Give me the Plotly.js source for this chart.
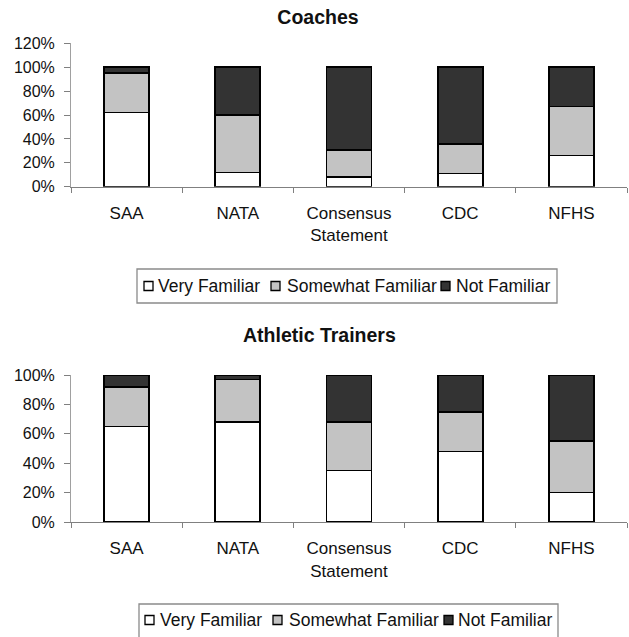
<!DOCTYPE html>
<html>
<head>
<meta charset="utf-8">
<script src="https://cdn.plot.ly/plotly-3.0.1.min.js"></script>
<style>html,body{margin:0;padding:0;background:#fff;}#chart{width:629px;height:637px;}</style>
</head>
<body>
<div id="chart"></div>
<script>
var categories = ['SAA', 'NATA', 'Consensus<br>Statement', 'CDC', 'NFHS'];
var seriesNames = ['Very Familiar', 'Somewhat Familiar', 'Not Familiar'];
var coachesVery = [62, 12, 8, 11, 26];
var coachesSomewhat = [33, 48, 23, 25, 41];
var coachesNot = [5, 40, 69, 64, 33];
var trainersVery = [65, 68, 35, 48, 20];
var trainersSomewhat = [27, 29, 33, 27, 35];
var trainersNot = [8, 3, 32, 25, 45];
var coachesTitle = 'Coaches';
var trainersTitle = 'Athletic Trainers';

var fillColors = ['#ffffff', '#c3c3c3', '#333333'];
var FONT = '"Liberation Sans", Arial, sans-serif';
var W = 629, H = 637, ML = 71, MR = 2;
var PW = W - ML - MR;
function px(x) { return (x - ML) / PW; }
function py(y) { return 1 - y / H; }

function mk(y, i, xa, ya) {
  return {
    type: 'bar', x: categories, y: y, name: seriesNames[i],
    xaxis: xa, yaxis: ya, showlegend: false,
    marker: {color: fillColors[i], line: {color: '#000000', width: 1.7}},
    hoverinfo: 'y'
  };
}
var data = [
  mk(coachesVery, 0, 'x', 'y'),
  mk(coachesSomewhat, 1, 'x', 'y'),
  mk(coachesNot, 2, 'x', 'y'),
  mk(trainersVery, 0, 'x2', 'y2'),
  mk(trainersSomewhat, 1, 'x2', 'y2'),
  mk(trainersNot, 2, 'x2', 'y2')
];

function xax(anchor) {
  return {
    anchor: anchor, domain: [0, 1], type: 'category',
    tickson: 'boundaries', ticks: 'outside', ticklen: 5, tickcolor: '#808080',
    showline: true, linecolor: '#808080', linewidth: 1,
    showgrid: false, zeroline: false,
    tickfont: {family: FONT, size: 17, color: '#111'},
    ticklabelstandoff: 11, fixedrange: true
  };
}
function yax(anchor, dom, maxv) {
  return {
    anchor: anchor, domain: dom, range: [0, maxv], dtick: 20, ticksuffix: '%',
    ticks: 'outside', ticklen: 6, tickcolor: '#808080',
    showline: true, linecolor: '#a0a0a0', linewidth: 1,
    showgrid: false, zeroline: false,
    tickfont: {family: FONT, size: 16, color: '#111'},
    ticklabelstandoff: 6, fixedrange: true
  };
}

// Hand-placed legend boxes (symbol + label), built from seriesNames / fillColors
var shapes = [], annotations = [];
function legendBox(x0, x1, y0, y1, symX, txtX, cy) {
  shapes.push({type: 'rect', xref: 'paper', yref: 'paper', x0: px(x0), x1: px(x1), y0: py(y1), y1: py(y0),
               line: {color: '#8a8a8a', width: 1.3}, fillcolor: 'rgba(0,0,0,0)', layer: 'above'});
  for (var i = 0; i < seriesNames.length; i++) {
    shapes.push({type: 'rect', xref: 'paper', yref: 'paper',
                 x0: px(symX[i]), x1: px(symX[i] + 9), y0: py(cy + 4.5), y1: py(cy - 4.5),
                 line: {color: '#000000', width: 1.3}, fillcolor: fillColors[i], layer: 'above'});
    annotations.push({text: seriesNames[i], showarrow: false, xref: 'paper', yref: 'paper',
                      x: px(txtX[i]), y: py(cy), xanchor: 'left', yanchor: 'middle', borderpad: 0,
                      font: {family: FONT, size: 17.5, color: '#111'}});
  }
}
legendBox(137, 557, 269, 303, [144, 271, 441], [157, 286, 455], 286);
legendBox(139, 558, 604, 638, [145, 273, 444], [159, 288, 457], 620);

annotations.push({
  text: '<b>' + trainersTitle + '</b>', showarrow: false,
  xref: 'paper', yref: 'paper', x: px(319), y: py(335),
  xanchor: 'center', yanchor: 'middle',
  font: {family: FONT, size: 19.5, color: '#111'}
});

var layout = {
  width: W, height: H,
  margin: {l: ML, r: MR, t: 0, b: 0},
  paper_bgcolor: '#ffffff', plot_bgcolor: '#ffffff',
  barmode: 'stack', bargap: 0.595, showlegend: false,
  font: {family: FONT, color: '#111'},
  title: {text: '<b>' + coachesTitle + '</b>', x: 318 / W, xanchor: 'center', xref: 'container',
          y: 1 - 17 / H, yanchor: 'middle', yref: 'container',
          font: {family: FONT, size: 19.5, color: '#111'}},
  xaxis: xax('y'),
  yaxis: yax('x', [py(186.7), py(43.3)], 120),
  xaxis2: xax('y2'),
  yaxis2: yax('x2', [py(522), py(375)], 100),
  shapes: shapes,
  annotations: annotations
};

Plotly.newPlot('chart', data, layout, {staticPlot: true, displayModeBar: false});
</script>
</body>
</html>
